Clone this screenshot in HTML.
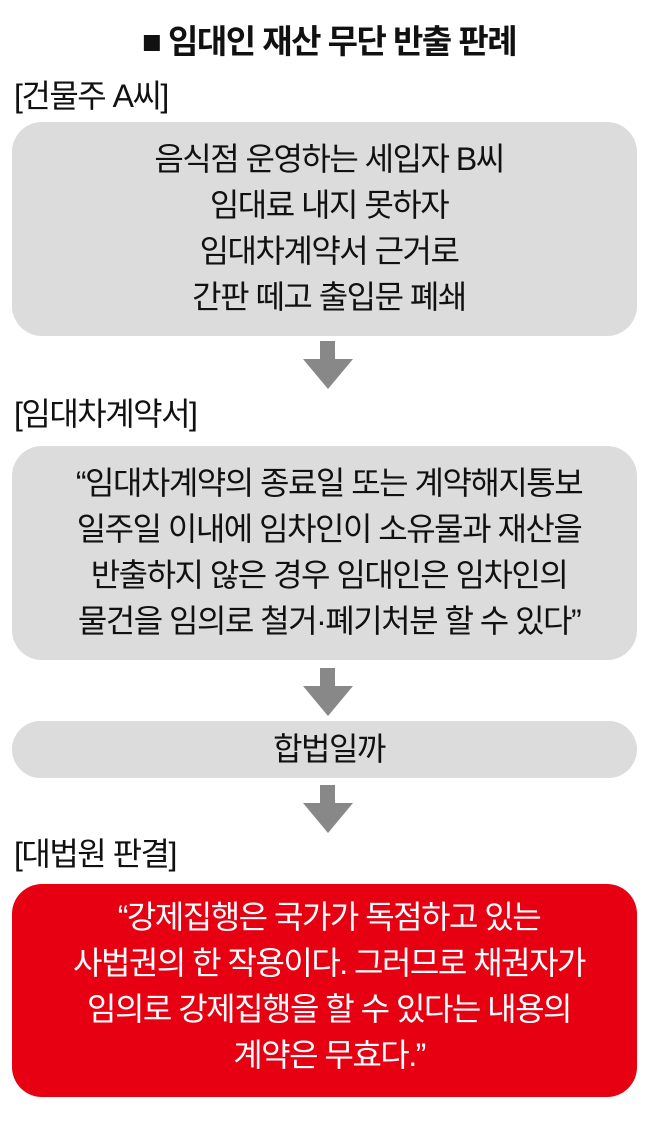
<!DOCTYPE html>
<html><head><meta charset="utf-8"><style>
*{margin:0;padding:0;box-sizing:border-box}
body{width:658px;height:1125px;background:#fff;position:relative;overflow:hidden;font-family:"Liberation Sans","Noto Sans CJK KR",sans-serif;color:#111}
.t{position:absolute;left:0;width:658px;text-align:center;font-size:32px;line-height:36px;letter-spacing:-1.5px}
.lab{position:absolute;left:14px;font-size:32px;line-height:36px;letter-spacing:-1.5px}
.box{position:absolute;left:12px;width:625px;background:#dcdcdc;border-radius:30px}
.arr{position:absolute;left:303px;width:50px;height:48px}
</style></head><body>
<div class="t" style="top:24px;font-weight:bold;font-size:33px">■ 임대인 재산 무단 반출 판례</div>
<div class="lab" style="top:78px">[건물주 A씨]</div>
<div class="box" style="top:122px;height:214px"></div>
<div class="t" style="top:141px">음식점 운영하는 세입자 B씨</div>
<div class="t" style="top:187px">임대료 내지 못하자</div>
<div class="t" style="top:233px">임대차계약서 근거로</div>
<div class="t" style="top:279px">간판 떼고 출입문 폐쇄</div>
<svg class="arr" style="top:341px" viewBox="0 0 50 48"><rect x="17" y="0" width="15" height="18" fill="#888"/><polygon points="0,18 50,18 25,48" fill="#888"/></svg>
<div class="lab" style="top:396px">[임대차계약서]</div>
<div class="box" style="top:446px;height:214px"></div>
<div class="t" style="top:465px">“임대차계약의 종료일 또는 계약해지통보</div>
<div class="t" style="top:511px">일주일 이내에 임차인이 소유물과 재산을</div>
<div class="t" style="top:557px">반출하지 않은 경우 임대인은 임차인의</div>
<div class="t" style="top:603px">물건을 임의로 철거·폐기처분 할 수 있다”</div>
<svg class="arr" style="top:668px" viewBox="0 0 50 48"><rect x="17" y="0" width="15" height="18" fill="#888"/><polygon points="0,18 50,18 25,48" fill="#888"/></svg>
<div class="box" style="top:721px;height:57px"></div>
<div class="t" style="top:731px">합법일까</div>
<svg class="arr" style="top:785px" viewBox="0 0 50 48"><rect x="17" y="0" width="15" height="18" fill="#888"/><polygon points="0,18 50,18 25,48" fill="#888"/></svg>
<div class="lab" style="top:836px">[대법원 판결]</div>
<div class="box" style="top:884px;height:213px;background:#e60012"></div>
<div class="t" style="top:899px;color:#fff">“강제집행은 국가가 독점하고 있는</div>
<div class="t" style="top:945px;color:#fff">사법권의 한 작용이다. 그러므로 채권자가</div>
<div class="t" style="top:991px;color:#fff">임의로 강제집행을 할 수 있다는 내용의</div>
<div class="t" style="top:1037px;color:#fff">계약은 무효다.”</div>
</body></html>
